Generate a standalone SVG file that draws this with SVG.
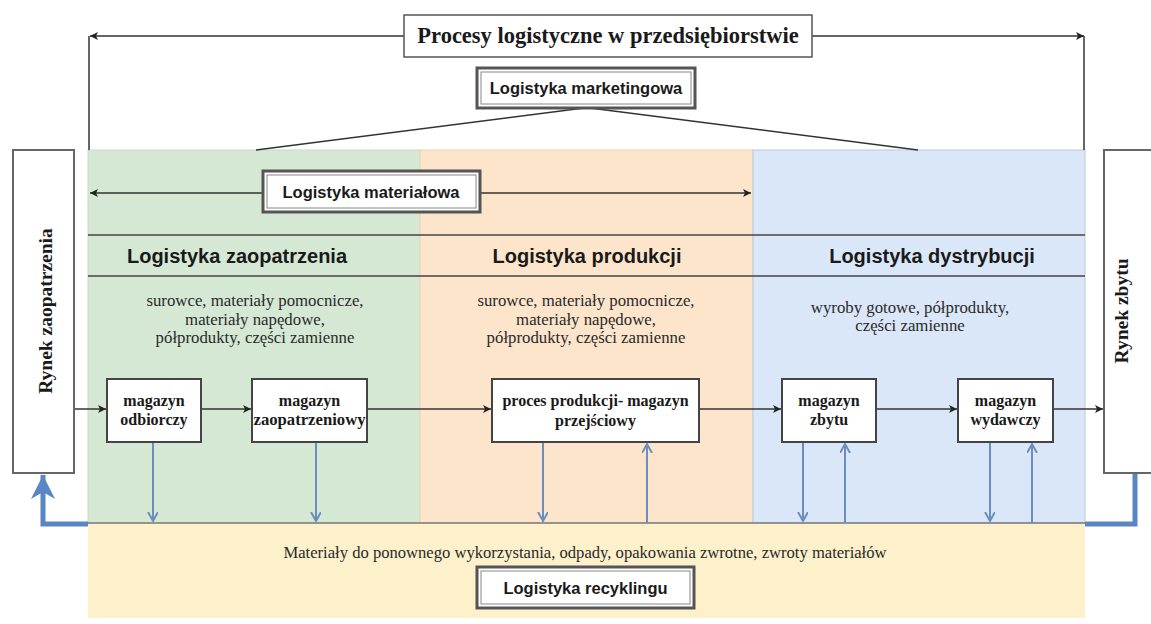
<svg xmlns="http://www.w3.org/2000/svg" width="1151" height="624" viewBox="0 0 1151 624">
<style>
.serifB{font-family:"Liberation Serif","Times New Roman",serif;font-weight:bold;fill:#1a1a1a}
.serif{font-family:"Liberation Serif","Times New Roman",serif;fill:#2a2a2a}
.sansB{font-family:"Liberation Sans",Arial,sans-serif;font-weight:bold;fill:#1a1a1a}
.box{fill:#fff;stroke:#444;stroke-width:2}
.dblOuter{fill:#fff;stroke:#555;stroke-width:3}
.dblInner{fill:none;stroke:#888;stroke-width:1}
.blk{stroke:#333;stroke-width:1.5;fill:none}
.blu{stroke:#6c8ebf;stroke-width:2;fill:none}
.bluThick{stroke:#5a86c3;stroke-width:5;fill:none}
.sep{stroke:#444;stroke-width:1.6}
</style>
<defs>
<marker id="ab" markerUnits="userSpaceOnUse" markerWidth="10" markerHeight="10" refX="8" refY="4" orient="auto">
<path d="M0,0 L8,4 L0,8 L2,4 z" fill="#222"/>
</marker>
<marker id="au" markerUnits="userSpaceOnUse" markerWidth="12" markerHeight="12" refX="9" refY="5" orient="auto">
<path d="M0,0 L9,5 L0,10" fill="none" stroke="#6c8ebf" stroke-width="2"/>
</marker>
<marker id="at" markerUnits="userSpaceOnUse" markerWidth="30" markerHeight="30" refX="24" refY="12" orient="auto">
<path d="M0,0 L24,12 L0,24 L7,12 z" fill="#5a86c3"/>
</marker>
</defs>

<g id="panels">
<rect x="88" y="150" width="332" height="373" fill="#d5e8d4" stroke="#c7dcc3" stroke-width="1"/>
<rect x="420" y="150" width="333" height="373" fill="#fde5cc" stroke="#e9d3b4" stroke-width="1"/>
<rect x="753" y="150" width="332" height="373" fill="#dae7f8" stroke="#b9c9dc" stroke-width="1"/>
<rect x="88" y="523" width="997" height="95" fill="#fdf1cb"/>
<line x1="88" y1="523" x2="1085" y2="523" stroke="#777" stroke-width="1.5"/>
<line class="sep" x1="88" y1="235" x2="1085" y2="235"/>
<line class="sep" x1="88" y1="276" x2="1085" y2="276"/>
</g>

<g id="connectors">
<line class="blk" x1="89" y1="36" x2="89" y2="150"/>
<line class="blk" x1="1084" y1="36" x2="1084" y2="150"/>
<line class="blk" x1="404" y1="36" x2="90" y2="36" marker-end="url(#ab)"/>
<line class="blk" x1="812" y1="36" x2="1084" y2="36" marker-end="url(#ab)"/>
<line x1="584" y1="108" x2="256" y2="150" stroke="#333" stroke-width="1.5"/>
<line x1="590" y1="108" x2="918" y2="150" stroke="#333" stroke-width="1.5"/>
<line class="blk" x1="263" y1="193" x2="90" y2="193" marker-end="url(#ab)"/>
<line class="blk" x1="480" y1="193" x2="751" y2="193" marker-end="url(#ab)"/>
<line class="blk" x1="74" y1="409" x2="106" y2="409" marker-end="url(#ab)"/>
<line class="blk" x1="201" y1="409" x2="251" y2="409" marker-end="url(#ab)"/>
<line class="blk" x1="367" y1="409" x2="491" y2="409" marker-end="url(#ab)"/>
<line class="blk" x1="699" y1="409" x2="781" y2="409" marker-end="url(#ab)"/>
<line class="blk" x1="876" y1="409" x2="957" y2="409" marker-end="url(#ab)"/>
<line class="blk" x1="1053" y1="409" x2="1103" y2="409" marker-end="url(#ab)"/>
<line class="blu" x1="153" y1="442" x2="153" y2="521" marker-end="url(#au)"/>
<line class="blu" x1="316" y1="442" x2="316" y2="521" marker-end="url(#au)"/>
<line class="blu" x1="543" y1="442" x2="543" y2="521" marker-end="url(#au)"/>
<line class="blu" x1="647" y1="523" x2="647" y2="444" marker-end="url(#au)"/>
<line class="blu" x1="803" y1="442" x2="803" y2="521" marker-end="url(#au)"/>
<line class="blu" x1="845" y1="523" x2="845" y2="444" marker-end="url(#au)"/>
<line class="blu" x1="990" y1="442" x2="990" y2="521" marker-end="url(#au)"/>
<line class="blu" x1="1032" y1="523" x2="1032" y2="444" marker-end="url(#au)"/>
<path class="bluThick" d="M88,524 H43 V475" marker-end="url(#at)"/>
<path class="bluThick" d="M1085,524 H1135 V473"/>
</g>

<g id="title">
<rect x="404" y="15" width="408" height="42" fill="#fff" stroke="#555" stroke-width="1.5"/>
<text class="serifB" x="608" y="43" font-size="22.5" text-anchor="middle">Procesy logistyczne w przedsiębiorstwie</text>
</g>

<g id="logistyka-marketingowa">
<rect class="dblOuter" x="477" y="68" width="218" height="40"/>
<rect class="dblInner" x="481" y="72" width="210" height="32"/>
<text class="sansB" x="586" y="94" font-size="16.5" text-anchor="middle">Logistyka marketingowa</text>
</g>

<g id="logistyka-materialowa">
<rect class="dblOuter" x="263" y="171" width="217" height="41"/>
<rect class="dblInner" x="267" y="175" width="209" height="33"/>
<text class="sansB" x="371" y="197.5" font-size="16.5" text-anchor="middle">Logistyka materiałowa</text>
</g>

<g id="logistyka-zaopatrzenia">
<text class="sansB" x="237" y="263" font-size="20" text-anchor="middle">Logistyka zaopatrzenia</text>
<text class="serif" font-size="16.8" text-anchor="middle"><tspan x="255" y="306">surowce, materiały pomocnicze,</tspan><tspan x="255" y="324.5">materiały napędowe,</tspan><tspan x="255" y="343">półprodukty, części zamienne</tspan></text>
</g>

<g id="logistyka-produkcji">
<text class="sansB" x="587" y="263" font-size="20" text-anchor="middle">Logistyka produkcji</text>
<text class="serif" font-size="16.8" text-anchor="middle"><tspan x="586" y="306">surowce, materiały pomocnicze,</tspan><tspan x="586" y="324.5">materiały napędowe,</tspan><tspan x="586" y="343">półprodukty, części zamienne</tspan></text>
</g>

<g id="logistyka-dystrybucji">
<text class="sansB" x="932" y="263" font-size="20" text-anchor="middle">Logistyka dystrybucji</text>
<text class="serif" font-size="16.8" text-anchor="middle"><tspan x="910" y="313">wyroby gotowe, półprodukty,</tspan><tspan x="910" y="331">części zamienne</tspan></text>
</g>

<g id="rynek-zaopatrzenia">
<rect x="13" y="150" width="61" height="323" fill="#fff" stroke="#666" stroke-width="2"/>
<text class="serifB" font-size="19.5" text-anchor="middle" dominant-baseline="central" transform="translate(45,311) rotate(-90)">Rynek zaopatrzenia</text>
</g>

<g id="rynek-zbytu">
<rect x="1104" y="150" width="62" height="323" fill="#fff" stroke="#666" stroke-width="2"/>
<text class="serifB" font-size="19.5" text-anchor="middle" dominant-baseline="central" transform="translate(1121,311) rotate(-90)">Rynek zbytu</text>
</g>

<g id="magazyn-odbiorczy">
<rect class="box" x="107" y="379" width="94" height="63"/>
<text class="serifB" font-size="16" text-anchor="middle"><tspan x="154" y="406">magazyn</tspan><tspan x="154" y="425">odbiorczy</tspan></text>
</g>

<g id="magazyn-zaopatrzeniowy">
<rect class="box" x="252" y="379" width="115" height="63"/>
<text class="serifB" font-size="16" text-anchor="middle"><tspan x="309.5" y="406">magazyn</tspan><tspan x="309.5" y="425" textLength="112" lengthAdjust="spacingAndGlyphs">zaopatrzeniowy</tspan></text>
</g>

<g id="proces-produkcji">
<rect class="box" x="492" y="379" width="207" height="63"/>
<text class="serifB" font-size="16" text-anchor="middle"><tspan x="595.5" y="406">proces produkcji- magazyn</tspan><tspan x="595.5" y="426">przejściowy</tspan></text>
</g>

<g id="magazyn-zbytu">
<rect class="box" x="782" y="379" width="94" height="63"/>
<text class="serifB" font-size="16" text-anchor="middle"><tspan x="829" y="406">magazyn</tspan><tspan x="829" y="425">zbytu</tspan></text>
</g>

<g id="magazyn-wydawczy">
<rect class="box" x="958" y="379" width="95" height="63"/>
<text class="serifB" font-size="16" text-anchor="middle"><tspan x="1005.5" y="406">magazyn</tspan><tspan x="1005.5" y="425">wydawczy</tspan></text>
</g>

<g id="logistyka-recyklingu">
<text class="serif" x="585" y="558" font-size="16.6" text-anchor="middle">Materiały do ponownego wykorzystania, odpady, opakowania zwrotne, zwroty materiałów</text>
<rect class="dblOuter" x="477" y="567" width="217" height="41"/>
<rect class="dblInner" x="481" y="571" width="209" height="33"/>
<text class="sansB" x="585.5" y="593.5" font-size="16.5" text-anchor="middle">Logistyka recyklingu</text>
</g>
</svg>
